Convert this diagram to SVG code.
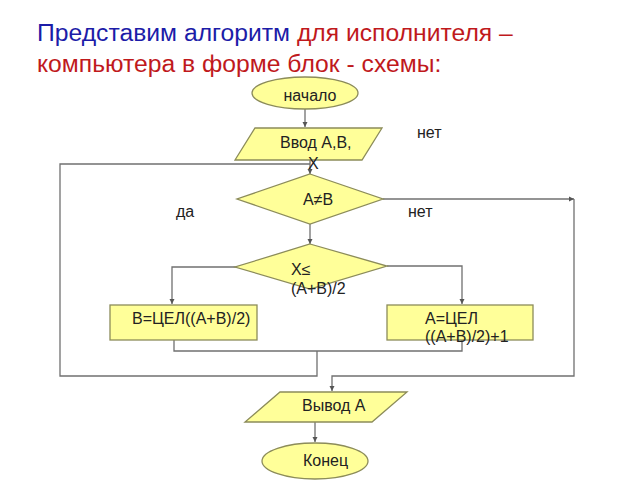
<svg xmlns="http://www.w3.org/2000/svg" width="640" height="480" viewBox="0 0 640 480">
<defs>
<style>
.sh{fill:#ffff99;stroke:#8c8c5a;stroke-width:1.3}
.t{font-family:"Liberation Sans",Arial,sans-serif;font-size:16px;fill:#222}
.c{fill:none;stroke:#707070;stroke-width:1.3}
.ti{font-family:"Liberation Sans",Arial,sans-serif;font-size:24.7px}
</style>
<marker id="ar" markerWidth="6" markerHeight="6" refX="5" refY="3" orient="auto" markerUnits="userSpaceOnUse">
<path d="M0,0.5 L5,3 L0,5.5 z" fill="#555"/>
</marker>
</defs>
<rect width="640" height="480" fill="#fff"/>
<g id="title">
<text class="ti" x="37" y="41"><tspan fill="#1c1ca8">Представим алгоритм</tspan><tspan fill="#c0191c"> для исполнителя –</tspan></text>
<text class="ti" x="37" y="72" fill="#c0191c">компьютера в форме блок - схемы:</text>
</g>
<g id="connectors">
<path class="c" d="M305,108 V127" marker-end="url(#ar)"/>
<path class="c" d="M310,160 V174" marker-end="url(#ar)"/>
<path class="c" d="M310,224 V244" marker-end="url(#ar)"/>
<path class="c" d="M237,267 H172 V304" marker-end="url(#ar)"/>
<path class="c" d="M387,266 H462 V304" marker-end="url(#ar)"/>
<path class="c" d="M174,340 V351 H462 V340"/>
<path class="c" d="M317,351 V376 H60 V164 H310"/>
<path class="c" d="M383,199 H574" marker-end="url(#ar)"/>
<path class="c" d="M574,199 V376 H332 V391" marker-end="url(#ar)"/>
<path class="c" d="M315,422 V442" marker-end="url(#ar)"/>
</g>
<g id="start">
<ellipse class="sh" cx="305" cy="93" rx="53" ry="16"/>
<text class="t" x="310" y="101" text-anchor="middle">начало</text>
</g>
<g id="input">
<polygon class="sh" points="255,128 382,128 362,160 235,160"/>
<text class="t" x="280" y="148">Ввод А,В,</text>
<text class="t" x="308" y="169">Х</text>
</g>
<g id="cond1">
<polygon class="sh" points="310,174 383,199 310,224 237,199"/>
<text class="t" x="303" y="205">A≠B</text>
</g>
<g id="cond2">
<polygon class="sh" points="310,244 387,266 310,289 235,267"/>
<text class="t" x="291" y="275">X≤</text>
<text class="t" x="291" y="294">(A+B)/2</text>
</g>
<g id="boxB">
<rect class="sh" x="110" y="305" width="147" height="35"/>
<text class="t" x="132" y="324">B=ЦЕЛ((A+B)/2)</text>
</g>
<g id="boxA">
<rect class="sh" x="387" y="305" width="146" height="35"/>
<text class="t" x="425" y="324">A=ЦЕЛ</text>
<text class="t" x="425" y="342">((A+B)/2)+1</text>
</g>
<g id="output">
<polygon class="sh" points="280,392 407,392 372,422 245,422"/>
<text class="t" x="302" y="411">Вывод А</text>
</g>
<g id="end">
<ellipse class="sh" cx="315" cy="461" rx="53" ry="18"/>
<text class="t" x="303" y="466">Конец</text>
</g>
<g id="labels">
<text class="t" x="417" y="138">нет</text>
<text class="t" x="176" y="217">да</text>
<text class="t" x="408" y="217">нет</text>
</g>
</svg>
